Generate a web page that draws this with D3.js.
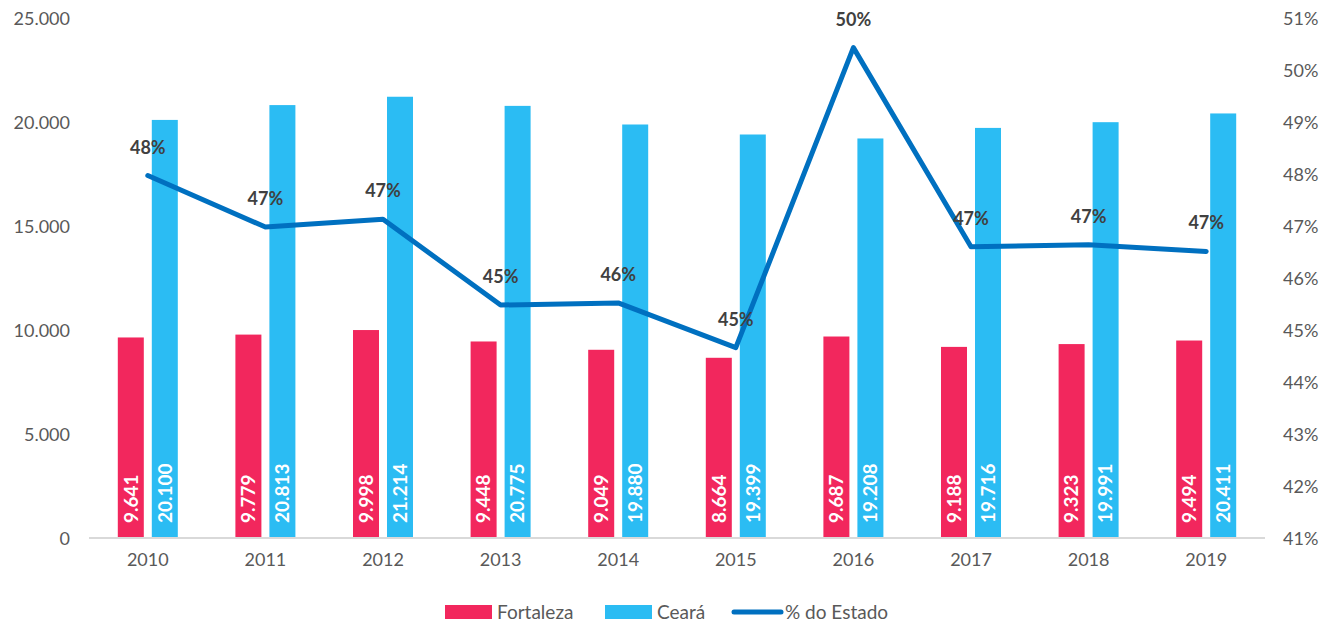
<!DOCTYPE html>
<html>
<head>
<meta charset="utf-8">
<script src="https://cdn.jsdelivr.net/npm/d3@7"></script>
<style>
  body { margin: 0; background: #fff; }
  svg text { font-family: Lato, "Open Sans", sans-serif; }
</style>
</head>
<body>
<svg width="1338" height="624"></svg>
<script>
// data
var years = ["2010", "2011", "2012", "2013", "2014", "2015", "2016", "2017", "2018", "2019"];
var fortaleza = [9641, 9779, 9998, 9448, 9049, 8664, 9687, 9188, 9323, 9494];
var ceara = [20100, 20813, 21214, 20775, 19880, 19399, 19208, 19716, 19991, 20411];
var pctEstado = [0.4797, 0.4698, 0.4713, 0.4548, 0.4552, 0.4466, 0.5043, 0.4660, 0.4664, 0.4651];
var leftTicks = [0, 5000, 10000, 15000, 20000, 25000];
var rightTicks = [0.41, 0.42, 0.43, 0.44, 0.45, 0.46, 0.47, 0.48, 0.49, 0.50, 0.51];

var red = "#f2275d", blue = "#2bbcf3", lineBlue = "#0070c0";

var svg = d3.select("svg");
var numFmt = d3.formatLocale({decimal: ",", thousands: ".", grouping: [3], currency: ["", ""]}).format(",d");
var pctFmt = d3.format(".0%");

var x = d3.scaleBand().domain(years).range([89, 1265]);
var y = d3.scaleLinear().domain([0, 25000]).range([538, 18]);
var y2 = d3.scaleLinear().domain([0.41, 0.51]).range([538, 18]);

var barW = 26, gap = 8;

// left axis
var gl = svg.append("g").attr("transform", "translate(70,0)")
    .call(d3.axisLeft(y).tickValues(leftTicks).tickSize(0).tickPadding(0).tickFormat(numFmt));
gl.select(".domain").remove();
gl.selectAll("text").attr("font-size", 18).attr("fill", "#595959").attr("dy", "0.35em");

// right axis
var gr = svg.append("g").attr("transform", "translate(1283,0)")
    .call(d3.axisRight(y2).tickValues(rightTicks).tickSize(0).tickPadding(0).tickFormat(pctFmt));
gr.select(".domain").remove();
gr.selectAll("text").attr("font-size", 18).attr("fill", "#595959").attr("dy", "0.35em");

// bars
var groups = svg.append("g").selectAll("g")
  .data(years)
  .enter().append("g")
    .attr("transform", function(d) { return "translate(" + (x(d) + x.bandwidth() / 2) + ",0)"; });

groups.append("rect")
    .attr("x", -gap / 2 - barW)
    .attr("width", barW)
    .attr("y", function(d, i) { return y(fortaleza[i]); })
    .attr("height", function(d, i) { return y(0) - y(fortaleza[i]); })
    .attr("fill", red);

groups.append("rect")
    .attr("x", gap / 2)
    .attr("width", barW)
    .attr("y", function(d, i) { return y(ceara[i]); })
    .attr("height", function(d, i) { return y(0) - y(ceara[i]); })
    .attr("fill", blue);

// bar labels (rotated)
groups.append("text")
    .attr("transform", "translate(" + (-gap / 2 - barW / 2) + "," + (y(0) - 15) + ") rotate(-90)")
    .attr("dy", "0.36em")
    .attr("font-size", 19).attr("font-weight", "bold").attr("fill", "#fff")
    .text(function(d, i) { return numFmt(fortaleza[i]); });

groups.append("text")
    .attr("transform", "translate(" + (gap / 2 + barW / 2) + "," + (y(0) - 15) + ") rotate(-90)")
    .attr("dy", "0.36em")
    .attr("font-size", 19).attr("font-weight", "bold").attr("fill", "#fff")
    .text(function(d, i) { return numFmt(ceara[i]); });

// baseline
svg.append("line")
    .attr("x1", x.range()[0]).attr("x2", x.range()[1])
    .attr("y1", y(0)).attr("y2", y(0))
    .attr("stroke", "#d9d9d9").attr("stroke-width", 2);

// x axis labels
var gx = svg.append("g").attr("transform", "translate(0," + y(0) + ")")
    .call(d3.axisBottom(x).tickSize(0).tickPadding(0));
gx.select(".domain").remove();
gx.selectAll("text").attr("font-size", 18).attr("fill", "#595959").attr("dy", 28);

// line
var line = d3.line()
    .x(function(d, i) { return x(years[i]) + x.bandwidth() / 2; })
    .y(function(d) { return y2(d); });

svg.append("path")
    .datum(pctEstado)
    .attr("d", line)
    .attr("fill", "none")
    .attr("stroke", lineBlue)
    .attr("stroke-width", 5)
    .attr("stroke-linejoin", "round")
    .attr("stroke-linecap", "round");

svg.append("g").selectAll("text")
  .data(pctEstado)
  .enter().append("text")
    .attr("x", function(d, i) { return x(years[i]) + x.bandwidth() / 2; })
    .attr("y", function(d) { return y2(d) - 22; })
    .attr("text-anchor", "middle")
    .attr("font-size", 18).attr("font-weight", "bold").attr("fill", "#404040")
    .text(function(d) { return pctFmt(d); });

// legend
var legend = svg.append("g").attr("transform", "translate(0,612)");
legend.append("rect").attr("x", 445).attr("y", -7).attr("width", 47).attr("height", 14).attr("fill", red);
legend.append("text").attr("x", 497).attr("dy", "0.35em").attr("font-size", 19).attr("fill", "#595959").text("Fortaleza");
legend.append("rect").attr("x", 605).attr("y", -7).attr("width", 47).attr("height", 14).attr("fill", blue);
legend.append("text").attr("x", 657).attr("dy", "0.35em").attr("font-size", 19).attr("fill", "#595959").text("Ceará");
legend.append("line").attr("x1", 734).attr("x2", 781).attr("y1", 0).attr("y2", 0)
    .attr("stroke", lineBlue).attr("stroke-width", 5).attr("stroke-linecap", "round");
legend.append("text").attr("x", 785).attr("dy", "0.35em").attr("font-size", 19).attr("fill", "#595959").text("% do Estado");
</script>
</body>
</html>
